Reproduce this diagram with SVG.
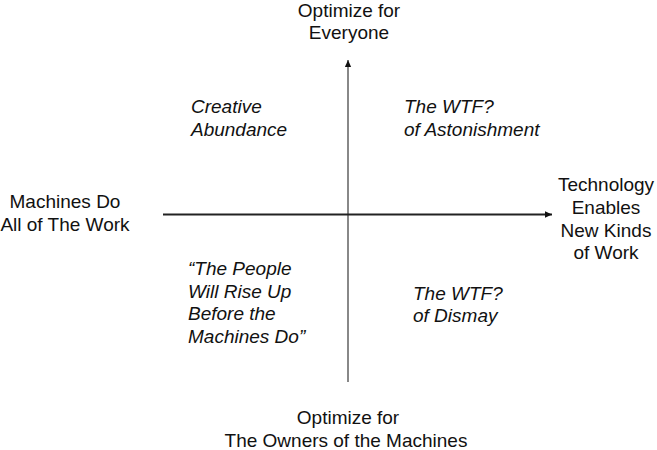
<svg xmlns="http://www.w3.org/2000/svg" width="657" height="450" viewBox="0 0 657 450">
<defs>
<marker id="ah" viewBox="0 0 10 10" refX="10" refY="5" markerWidth="7" markerHeight="7" markerUnits="userSpaceOnUse" orient="auto">
<path d="M0,0.5 L10,5 L0,9.5 Z" fill="#111"/>
</marker>
<style>
text{font-family:"Liberation Sans",Arial,sans-serif;font-size:19px;fill:#111}
.c{text-anchor:middle}
.i{font-style:italic}
</style>
</defs>
<rect width="657" height="450" fill="#fff"/>
<g id="connectors">
<line x1="348" y1="382" x2="348" y2="60" stroke="#888" stroke-width="2" marker-end="url(#ah)"/>
<line x1="163" y1="214.5" x2="552" y2="214.5" stroke="#222" stroke-width="2" marker-end="url(#ah)"/>
</g>
<g id="top"><text class="c" x="349" y="17">Optimize for</text><text class="c" x="349" y="39">Everyone</text></g>
<g id="bottom"><text class="c" x="348" y="424">Optimize for</text><text class="c" x="346" y="447">The Owners of the Machines</text></g>
<g id="left"><text class="c" x="65" y="208">Machines Do</text><text class="c" x="65" y="231">All of The Work</text></g>
<g id="right"><text class="c" x="606" y="191">Technology</text><text class="c" x="606" y="214">Enables</text><text class="c" x="606" y="237">New Kinds</text><text class="c" x="606" y="259">of Work</text></g>
<g id="q1"><text class="i" x="191" y="113">Creative</text><text class="i" x="191" y="136">Abundance</text></g>
<g id="q2"><text class="i" x="404" y="113">The WTF?</text><text class="i" x="404" y="136">of Astonishment</text></g>
<g id="q3"><text class="i" x="188" y="275">“The People</text><text class="i" x="188" y="298">Will Rise Up</text><text class="i" x="188" y="320">Before the</text><text class="i" x="188" y="343">Machines Do”</text></g>
<g id="q4"><text class="i" x="413" y="300">The WTF?</text><text class="i" x="413" y="322">of Dismay</text></g>
</svg>
